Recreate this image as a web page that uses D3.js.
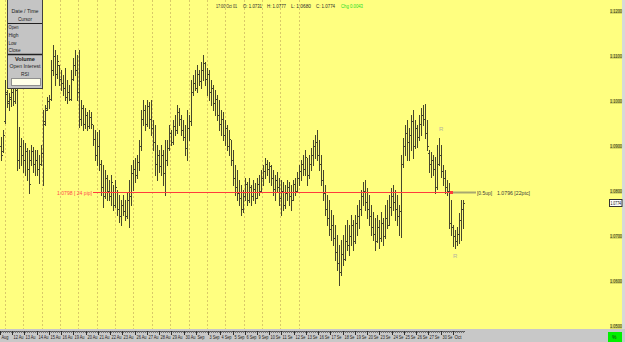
<!DOCTYPE html>
<html>
<head>
<meta charset="utf-8">
<script src="https://cdn.jsdelivr.net/npm/d3@7"></script>
<style>
  body { margin: 0; background: #ffffff; }
  svg { display: block; font-family: "Liberation Sans", Arial, sans-serif; }
</style>
</head>
<body>
<div id="chart"></div>
<script>
// 4-hour bars, 9 Aug - 1 Oct
var barOpen = [
  1.0900,1.0890,1.0955,1.1015,1.0995,1.1005, 1.1020,1.1000,1.1025,1.0870,1.0900,1.0880,
  1.0870,1.0890,1.0850,1.0870,1.0890,1.0860, 1.0870,1.0850,1.0860,1.0885,1.0955,1.0985,
  1.1000,1.1005,1.1070,1.1100,1.1060,1.1080, 1.1050,1.1040,1.1030,1.1010,1.1020,1.1005,
  1.1050,1.1080,1.1070,1.1020,1.0960,1.0985, 1.0950,1.0970,1.0945,1.0965,1.0950,1.0915,
  1.0880,1.0900,1.0860,1.0810,1.0790,1.0830, 1.0800,1.0790,1.0820,1.0770,1.0810,1.0760,
  1.0745,1.0770,1.0755,1.0745,1.0780,1.0790, 1.0840,1.0850,1.0835,1.0865,1.0900,1.0960,
  1.0980,1.0950,1.0990,1.0960,1.0940,1.0910, 1.0860,1.0880,1.0855,1.0880,1.0840,1.0870,
  1.0895,1.0930,1.0910,1.0945,1.0935,1.0975, 1.0960,1.0935,1.0920,1.0895,1.0940,1.0955,
  1.1020,1.1040,1.1030,1.1060,1.1045,1.1070, 1.1085,1.1050,1.1060,1.1020,1.1030,1.0995,
  1.1005,1.0970,1.0950,1.0960,1.0925,1.0940, 1.0900,1.0915,1.0870,1.0830,1.0810,1.0795,
  1.0785,1.0760,1.0790,1.0815,1.0780,1.0810, 1.0790,1.0805,1.0785,1.0815,1.0800,1.0830,
  1.0845,1.0860,1.0850,1.0855,1.0830,1.0805, 1.0825,1.0810,1.0785,1.0800,1.0770,1.0795,
  1.0810,1.0790,1.0780,1.0815,1.0800,1.0830, 1.0845,1.0860,1.0850,1.0875,1.0835,1.0860,
  1.0880,1.0900,1.0910,1.0880,1.0860,1.0825, 1.0795,1.0760,1.0740,1.0715,1.0725,1.0695,
  1.0665,1.0640,1.0620,1.0660,1.0650,1.0690, 1.0680,1.0700,1.0725,1.0690,1.0730,1.0745,
  1.0760,1.0790,1.0800,1.0775,1.0760,1.0745, 1.0720,1.0705,1.0690,1.0720,1.0695,1.0730,
  1.0700,1.0740,1.0725,1.0765,1.0790,1.0775, 1.0760,1.0745,1.0755,1.0860,1.0900,1.0930,
  1.0910,1.0925,1.0955,1.0900,1.0940,1.0920, 1.0950,1.0970,1.0960,1.0930,1.0885,1.0860,
  1.0870,1.0850,1.0810,1.0860,1.0880,1.0845, 1.0830,1.0810,1.0800,1.0730,1.0720,1.0700,
  1.0690,1.0705,1.0735,1.0760
];
var barHigh = [
  1.0920,1.0936,1.1047,1.1024,1.1018,1.1029, 1.1035,1.1047,1.1029,1.0942,1.0918,1.0913,
  1.0907,1.0896,1.0891,1.0902,1.0898,1.0891, 1.0891,1.0880,1.0902,1.0980,1.0991,1.1009,
  1.1013,1.1091,1.1124,1.1113,1.1102,1.1080, 1.1069,1.1058,1.1073,1.1047,1.1036,1.1069,
  1.1096,1.1113,1.1102,1.1113,1.1002,1.0991, 1.0984,1.0976,1.0980,1.0976,1.0947,1.0936,
  1.0931,1.0936,1.0869,1.0858,1.0847,1.0836, 1.0824,1.0836,1.0813,1.0824,1.0802,1.0791,
  1.0780,1.0791,1.0780,1.0798,1.0824,1.0858, 1.0869,1.0873,1.0880,1.0913,1.0980,1.1002,
  1.0991,1.1002,1.0998,1.1002,1.0958,1.0947, 1.0902,1.0891,1.0902,1.0891,1.0913,1.0913,
  1.0947,1.0936,1.0958,1.0969,1.0991,1.0984, 1.0969,1.0958,1.0947,1.0980,1.0969,1.1047,
  1.1058,1.1069,1.1080,1.1069,1.1087,1.1102, 1.1087,1.1073,1.1069,1.1047,1.1036,1.1024,
  1.1013,1.1002,1.0980,1.0976,1.0958,1.0947, 1.0936,1.0913,1.0891,1.0858,1.0847,1.0824,
  1.0813,1.0802,1.0829,1.0820,1.0829,1.0813, 1.0824,1.0818,1.0829,1.0836,1.0847,1.0858,
  1.0873,1.0869,1.0865,1.0858,1.0847,1.0836, 1.0842,1.0829,1.0824,1.0820,1.0813,1.0824,
  1.0820,1.0813,1.0824,1.0829,1.0842,1.0858, 1.0869,1.0880,1.0891,1.0873,1.0880,1.0896,
  1.0913,1.0924,1.0936,1.0913,1.0880,1.0847, 1.0813,1.0791,1.0780,1.0758,1.0747,1.0724,
  1.0702,1.0680,1.0691,1.0702,1.0724,1.0736, 1.0724,1.0747,1.0736,1.0747,1.0769,1.0780,
  1.0802,1.0820,1.0824,1.0807,1.0791,1.0769, 1.0753,1.0740,1.0747,1.0736,1.0753,1.0740,
  1.0769,1.0780,1.0791,1.0807,1.0813,1.0802, 1.0791,1.0769,1.0880,1.0918,1.0947,1.0958,
  1.0940,1.0969,1.0980,1.0958,1.0947,1.0969, 1.0984,1.0991,1.0993,1.0958,1.0891,1.0887,
  1.0880,1.0876,1.0902,1.0918,1.0902,1.0858, 1.0847,1.0824,1.0818,1.0780,1.0724,1.0713,
  1.0720,1.0751,1.0780,1.0780
];
var barLow = [
  1.0869,1.0887,1.0951,1.0987,1.0980,1.0989, 1.0991,1.0995,1.0847,1.0851,1.0858,1.0842,
  1.0836,1.0824,1.0796,1.0858,1.0842,1.0836, 1.0836,1.0818,1.0858,1.0813,1.0947,1.0980,
  1.0984,1.1002,1.1058,1.1036,1.1051,1.1036, 1.1024,1.1013,1.1002,1.0996,1.1002,1.1002,
  1.1047,1.1058,1.1002,1.0942,1.0947,1.0936, 1.0940,1.0936,1.0940,1.0940,1.0902,1.0869,
  1.0858,1.0847,1.0791,1.0764,1.0785,1.0780, 1.0780,1.0769,1.0758,1.0765,1.0747,1.0731,
  1.0724,1.0747,1.0736,1.0740,1.0720,1.0769, 1.0802,1.0820,1.0830,1.0847,1.0891,1.0947,
  1.0936,1.0945,1.0940,1.0924,1.0891,1.0836, 1.0824,1.0842,1.0836,1.0813,1.0791,1.0858,
  1.0891,1.0902,1.0905,1.0924,1.0930,1.0947, 1.0924,1.0913,1.0880,1.0869,1.0913,1.0947,
  1.1013,1.1024,1.1020,1.1036,1.1029,1.1047, 1.1036,1.1013,1.1002,1.0991,1.0980,1.0969,
  1.0958,1.0936,1.0924,1.0913,1.0902,1.0891, 1.0880,1.0858,1.0813,1.0791,1.0780,1.0769,
  1.0747,1.0753,1.0780,1.0769,1.0775,1.0769, 1.0780,1.0773,1.0784,1.0791,1.0798,1.0813,
  1.0829,1.0836,1.0820,1.0813,1.0791,1.0780, 1.0798,1.0769,1.0747,1.0758,1.0762,1.0780,
  1.0769,1.0758,1.0780,1.0791,1.0798,1.0813, 1.0824,1.0836,1.0836,1.0813,1.0829,1.0847,
  1.0858,1.0873,1.0869,1.0847,1.0813,1.0780, 1.0747,1.0724,1.0702,1.0691,1.0680,1.0647,
  1.0624,1.0591,1.0613,1.0636,1.0647,1.0669, 1.0658,1.0680,1.0669,1.0685,1.0702,1.0718,
  1.0747,1.0769,1.0758,1.0740,1.0724,1.0702, 1.0691,1.0669,1.0687,1.0673,1.0690,1.0680,
  1.0695,1.0718,1.0724,1.0747,1.0758,1.0736, 1.0724,1.0702,1.0698,1.0853,1.0880,1.0869,
  1.0869,1.0891,1.0873,1.0895,1.0898,1.0913, 1.0924,1.0947,1.0918,1.0891,1.0842,1.0831,
  1.0836,1.0796,1.0805,1.0858,1.0831,1.0813, 1.0796,1.0791,1.0718,1.0702,1.0678,1.0673,
  1.0680,1.0684,1.0691,1.0718
];
var barClose = [
  1.0880,1.0925,1.1020,1.1000,1.1010,1.1020, 1.1000,1.1030,1.0870,1.0900,1.0880,1.0870,
  1.0890,1.0850,1.0815,1.0890,1.0860,1.0870, 1.0850,1.0860,1.0885,1.0950,1.0980,1.1000,
  1.1005,1.1070,1.1100,1.1060,1.1090,1.1050, 1.1040,1.1030,1.1010,1.1020,1.1005,1.1050,
  1.1080,1.1070,1.1020,1.0960,1.0985,1.0950, 1.0970,1.0945,1.0965,1.0950,1.0915,1.0880,
  1.0900,1.0860,1.0810,1.0790,1.0830,1.0800, 1.0790,1.0820,1.0770,1.0810,1.0760,1.0745,
  1.0770,1.0755,1.0745,1.0780,1.0790,1.0840, 1.0850,1.0835,1.0865,1.0900,1.0960,1.0980,
  1.0950,1.0990,1.0960,1.0940,1.0910,1.0860, 1.0880,1.0855,1.0880,1.0840,1.0870,1.0895,
  1.0930,1.0910,1.0945,1.0935,1.0975,1.0960, 1.0935,1.0920,1.0895,1.0940,1.0955,1.1020,
  1.1040,1.1030,1.1060,1.1045,1.1070,1.1085, 1.1050,1.1060,1.1020,1.1030,1.0995,1.1005,
  1.0970,1.0950,1.0960,1.0925,1.0940,1.0900, 1.0915,1.0870,1.0830,1.0810,1.0795,1.0785,
  1.0760,1.0790,1.0815,1.0780,1.0810,1.0790, 1.0805,1.0785,1.0815,1.0800,1.0830,1.0845,
  1.0860,1.0850,1.0855,1.0830,1.0805,1.0825, 1.0810,1.0785,1.0800,1.0770,1.0795,1.0810,
  1.0790,1.0780,1.0815,1.0800,1.0830,1.0845, 1.0860,1.0850,1.0875,1.0835,1.0860,1.0880,
  1.0900,1.0910,1.0880,1.0860,1.0825,1.0795, 1.0760,1.0740,1.0715,1.0725,1.0695,1.0665,
  1.0640,1.0620,1.0660,1.0650,1.0690,1.0680, 1.0700,1.0725,1.0690,1.0730,1.0745,1.0760,
  1.0790,1.0800,1.0775,1.0760,1.0745,1.0720, 1.0705,1.0690,1.0720,1.0695,1.0730,1.0700,
  1.0740,1.0725,1.0765,1.0790,1.0775,1.0760, 1.0745,1.0755,1.0860,1.0900,1.0930,1.0910,
  1.0925,1.0955,1.0900,1.0940,1.0920,1.0950, 1.0970,1.0960,1.0930,1.0900,1.0860,1.0870,
  1.0850,1.0810,1.0860,1.0880,1.0845,1.0830, 1.0810,1.0800,1.0730,1.0720,1.0700,1.0690,
  1.0705,1.0735,1.0760,1.0774
];

var dayLabels = ["Aug","12 Au","13 Au","14 Au","15 Au","16 Au","19 Au","20 Au","21 Au","22 Au",
  "23 Au","26 Au","27 Au","28 Au","29 Au","30 Au","Sep","3 Sep","4 Sep","5 Sep","6 Sep","9 Sep",
  "10 Se","11 Se","12 Se","13 Se","16 Se","17 Se","18 Se","19 Se","20 Se","23 Se","24 Se",
  "25 Se","26 Se","27 Se","30 Se","Oct"];
var priceTicks = [1.12, 1.11, 1.10, 1.09, 1.08, 1.07, 1.06, 1.05];

var lastBar = { time: "17:00 Oct 01", o: 1.0731, h: 1.0777, l: 1.0680, c: 1.0774, chg: 0.0043 };
var lineLevel = 1.0798, lineLevelRight = 1.0796;

var svgWidth = 625, svgHeight = 342;
var fmt = d3.format(".4f");

var svg = d3.select("#chart").append("svg")
  .attr("width", svgWidth)
  .attr("height", svgHeight);

svg.append("rect").attr("width", svgWidth).attr("height", svgHeight).attr("fill", "#ffff80");
svg.append("rect").attr("x", 622).attr("y", 0).attr("width", 3).attr("height", 329).attr("fill", "#d8d8d8");

// scales
var x = d3.scaleLinear().domain([0, barOpen.length]).range([1, 465]);
var dayX = d3.scaleBand().domain(dayLabels).range([0, 465]);
var y = d3.scaleLinear().domain([1.05, 1.12]).range([326, 11]);

// dashed vertical grid (every 1.5 days)
var gridG = svg.append("g");
d3.range(0, 25.5, 1.5).forEach(function(k) {
  var gx = Math.round(k * dayX.bandwidth() + 5) + 0.5;
  gridG.append("line")
    .attr("x1", gx).attr("x2", gx).attr("y1", 0).attr("y2", 329)
    .attr("stroke", "#d9c968").attr("stroke-dasharray", "2,2");
});

// OHLC bars, drawn as 1px rects so they stay crisp
var bars = svg.append("g").attr("fill", "#46462c");
barOpen.forEach(function(o, i) {
  var bx = Math.round(x(i));
  var yh = Math.round(y(barHigh[i])), yl = Math.round(y(barLow[i]));
  bars.append("rect").attr("x", bx).attr("y", yh).attr("width", 1).attr("height", yl - yh + 1);
  bars.append("rect").attr("x", bx - 1).attr("y", Math.round(y(o))).attr("width", 1).attr("height", 1);
  bars.append("rect").attr("x", bx + 1).attr("y", Math.round(y(barClose[i]))).attr("width", 1).attr("height", 1);
});

// horizontal level line
var ly = Math.round(y(lineLevel)) + 0.5;
svg.append("line").attr("x1", 93).attr("x2", x(225)).attr("y1", ly).attr("y2", ly)
  .attr("stroke", "#ff3c3c").attr("stroke-width", 1);
svg.append("rect").attr("x", x(225) - 1).attr("y", ly - 1.5).attr("width", 3).attr("height", 3)
  .attr("fill", "#ff3c3c");
svg.append("line").attr("x1", x(225) + 2).attr("x2", 476).attr("y1", ly).attr("y2", ly)
  .attr("stroke", "#a8a870").attr("stroke-width", 2);
svg.append("text").attr("x", 92).attr("y", ly + 2).attr("text-anchor", "end")
  .attr("font-size", 5.5).attr("fill", "#ff4a4a")
  .attr("textLength", 35).attr("lengthAdjust", "spacingAndGlyphs")
  .text(fmt(lineLevel) + " [ 24 pip]");
svg.append("text").attr("x", 477).attr("y", ly + 2)
  .attr("font-size", 5.5).attr("fill", "#3a3a3a")
  .attr("textLength", 15).attr("lengthAdjust", "spacingAndGlyphs")
  .text("[0.5up]");
svg.append("text").attr("x", 497).attr("y", ly + 2)
  .attr("font-size", 5.5).attr("fill", "#3a3a3a")
  .attr("textLength", 33).attr("lengthAdjust", "spacingAndGlyphs")
  .text(fmt(lineLevelRight) + " [22ptc]");

// R markers
svg.append("text").attr("x", 439).attr("y", 131).attr("font-size", 6).attr("fill", "#b4b4a0").text("R");
svg.append("text").attr("x", 453).attr("y", 258).attr("font-size", 6).attr("fill", "#b4b4a0").text("R");

// right price axis
var yAxisG = svg.append("g");
priceTicks.forEach(function(t) {
  var ty = Math.round(y(t));
  yAxisG.append("rect").attr("x", 610).attr("y", ty - 2).attr("width", 12).attr("height", 5)
    .attr("fill", "#dcdc66");
  yAxisG.append("text").attr("x", 622).attr("y", ty + 2).attr("text-anchor", "end")
    .attr("font-size", 5).attr("fill", "#2e2e18")
    .attr("textLength", 12).attr("lengthAdjust", "spacingAndGlyphs")
    .text(fmt(t));
});
var cy = Math.round(y(lastBar.c));
svg.append("rect").attr("x", 609.5).attr("y", cy - 3.5).attr("width", 12.5).attr("height", 7)
  .attr("fill", "#ffffff").attr("stroke", "#333333").attr("stroke-width", 1);
svg.append("text").attr("x", 621).attr("y", cy + 2).attr("text-anchor", "end")
  .attr("font-size", 5).attr("fill", "#000")
  .attr("textLength", 10.5).attr("lengthAdjust", "spacingAndGlyphs")
  .text(fmt(lastBar.c));

// bottom time axis
var axisG = svg.append("g");
axisG.append("rect").attr("x", 0).attr("y", 329).attr("width", svgWidth).attr("height", 13).attr("fill", "#c8c8c8");
axisG.append("line").attr("x1", 0).attr("x2", 465).attr("y1", 331.5).attr("y2", 331.5).attr("stroke", "#505050");
d3.range(0, barOpen.length).forEach(function(i) {
  var tx = Math.round(x(i)) + 0.5;
  axisG.append("line").attr("x1", tx).attr("x2", tx).attr("y1", 331).attr("y2", 333).attr("stroke", "#707070");
});
dayLabels.forEach(function(d) {
  var tx = Math.round(dayX(d)) + 0.5;
  axisG.append("line").attr("x1", tx).attr("x2", tx).attr("y1", 331).attr("y2", 335).attr("stroke", "#303030");
  axisG.append("text").attr("x", tx + 1).attr("y", 339)
    .attr("font-size", 5).attr("fill", "#202020")
    .attr("textLength", d.length > 3 ? 10 : 7).attr("lengthAdjust", "spacingAndGlyphs")
    .text(d);
});
axisG.append("rect").attr("x", 608).attr("y", 332).attr("width", 14).attr("height", 10).attr("fill", "#00f000");
axisG.append("text").attr("x", 612).attr("y", 339).attr("font-size", 5).attr("fill", "#104010").text("%");

// header line
var hdr = [
  { t: lastBar.time, x: 216, w: 21, c: "#2a2a2a" },
  { t: "O: " + fmt(lastBar.o), x: 243, w: 19, c: "#2a2a2a" },
  { t: "H: " + fmt(lastBar.h), x: 267, w: 19, c: "#2a2a2a" },
  { t: "L: " + fmt(lastBar.l), x: 291, w: 20, c: "#2a2a2a" },
  { t: "C: " + fmt(lastBar.c), x: 316, w: 19, c: "#2a2a2a" },
  { t: "Chg " + fmt(lastBar.chg), x: 341, w: 22, c: "#22dd22" }
];
hdr.forEach(function(h) {
  svg.append("text").attr("x", h.x).attr("y", 8).attr("font-size", 4.5).attr("fill", h.c)
    .attr("textLength", h.w).attr("lengthAdjust", "spacingAndGlyphs").text(h.t);
});

// legend panel
var panel = svg.append("g");
panel.append("rect").attr("x", 7.5).attr("y", -1).attr("width", 35).attr("height", 89.5)
  .attr("fill", "#c4c4c4").attr("stroke", "#404040");
panel.append("line").attr("x1", 8).attr("x2", 42).attr("y1", 23.5).attr("y2", 23.5).attr("stroke", "#202020");
panel.append("line").attr("x1", 8).attr("x2", 42).attr("y1", 54.5).attr("y2", 54.5).attr("stroke", "#202020").attr("stroke-width", 1.5);
panel.append("rect").attr("x", 11.5).attr("y", 78.5).attr("width", 29).attr("height", 7)
  .attr("fill", "#ffffe8").attr("stroke", "#909090");
var panelRows = [
  { t: "Date / Time", y: 12.5, a: "middle", w: 27 },
  { t: "Cursor", y: 20.5, a: "middle", w: 14 },
  { t: "Open", y: 29, a: "start", w: 10 },
  { t: "High", y: 36.5, a: "start", w: 10 },
  { t: "Low", y: 44.5, a: "start", w: 8 },
  { t: "Close", y: 52, a: "start", w: 12 },
  { t: "Volume", y: 60.5, a: "middle", w: 20, b: true },
  { t: "Open Interest", y: 68, a: "middle", w: 31 },
  { t: "RSI", y: 76, a: "middle", w: 8 }
];
panelRows.forEach(function(r) {
  panel.append("text")
    .attr("x", r.a === "middle" ? 25 : 8.5).attr("y", r.y)
    .attr("text-anchor", r.a)
    .attr("font-size", 5.5).attr("fill", "#1e1e1e")
    .attr("font-weight", r.b ? "bold" : "normal")
    .attr("textLength", r.w).attr("lengthAdjust", "spacingAndGlyphs")
    .text(r.t);
});
</script>
</body>
</html>
